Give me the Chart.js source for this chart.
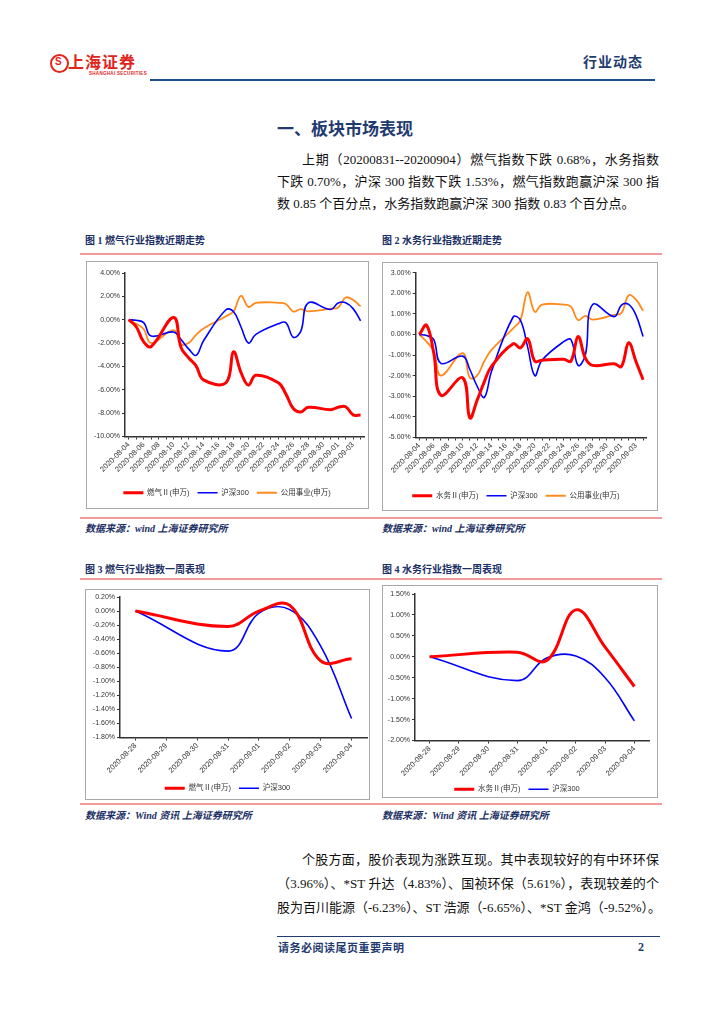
<!DOCTYPE html>
<html><head><meta charset="utf-8">
<script src="https://cdn.jsdelivr.net/npm/chart.js@4.4.1/dist/chart.umd.min.js"></script>
<style>
html,body{margin:0;padding:0;background:#fff;}
body{width:724px;height:1024px;position:relative;overflow:hidden;font-family:"Liberation Serif","Noto Sans CJK SC",serif;color:#111;}
.frame{position:absolute;border:1px solid #a8a8a8;box-sizing:border-box;background:#fff;}
canvas{position:absolute;}
.figt{position:absolute;font-size:10px;font-weight:bold;color:#1b2f64;white-space:nowrap;line-height:12px;}
.src{position:absolute;font-size:10px;font-weight:bold;font-style:italic;color:#1b2f64;white-space:nowrap;line-height:12px;}
.rline{position:absolute;left:80px;width:582px;height:2px;background:#f59a9a;}
.ln{position:absolute;left:277px;width:382px;font-size:13px;line-height:16px;white-space:nowrap;}
.j{text-align:justify;text-align-last:justify;}
</style></head>
<body>
<!-- header -->
<div style="position:absolute;left:50px;top:54px;width:15px;height:15px;border:2px solid #e1251b;border-radius:50%;"></div>
<div style="position:absolute;left:55px;top:56px;font:bold 10px 'Liberation Sans';color:#e1251b;">S</div>
<div style="position:absolute;left:68px;top:51px;font:bold 16px 'Noto Sans CJK SC';color:#e1251b;letter-spacing:1px;line-height:20px;">上海证券</div>
<div style="position:absolute;left:89px;top:71px;font:bold 4.5px 'Liberation Sans';color:#e1251b;line-height:5px;letter-spacing:0.3px;">SHANGHAI SECURITIES</div>
<div style="position:absolute;left:583px;top:52px;font:bold 14px 'Noto Sans CJK SC';color:#1f3b70;letter-spacing:1px;line-height:18px;">行业动态</div>
<div style="position:absolute;left:150px;top:79px;width:505px;height:2px;background:#1f4e8c;"></div>

<div style="position:absolute;left:277px;top:118px;font:bold 17px 'Noto Sans CJK SC';color:#1f3b70;line-height:20px;">一、板块市场表现</div>
<div class="ln j" style="top:152px;padding-left:25px;width:357px;">上期（20200831--20200904）燃气指数下跌 0.68%，水务指数</div>
<div class="ln j" style="top:174px;">下跌 0.70%，沪深 300 指数下跌 1.53%，燃气指数跑赢沪深 300 指</div>
<div class="ln" style="top:196px;">数 0.85 个百分点，水务指数跑赢沪深 300 指数 0.83 个百分点。</div>

<div class="figt" style="left:85px;top:235px;">图 1 燃气行业指数近期走势</div>
<div class="figt" style="left:382px;top:235px;">图 2 水务行业指数近期走势</div>
<div class="rline" style="top:253px;"></div>

<div class="frame" style="left:86px;top:261px;width:283px;height:248px;"></div>
<div class="frame" style="left:382px;top:262px;width:276px;height:249px;"></div>
<canvas id="c1" width="281" height="246" style="left:87px;top:262px;width:281px;height:246px;"></canvas>
<canvas id="c2" width="274" height="247" style="left:383px;top:263px;width:274px;height:247px;"></canvas>

<div class="rline" style="top:517px;"></div>
<div class="src" style="left:85px;top:523px;">数据来源：wind 上海证券研究所</div>
<div class="src" style="left:382px;top:523px;">数据来源：wind 上海证券研究所</div>

<div class="figt" style="left:85px;top:564px;">图 3 燃气行业指数一周表现</div>
<div class="figt" style="left:382px;top:564px;">图 4 水务行业指数一周表现</div>
<div class="rline" style="top:578px;"></div>

<div class="frame" style="left:85px;top:589px;width:285px;height:211px;"></div>
<div class="frame" style="left:382px;top:585px;width:276px;height:213px;"></div>
<canvas id="c3" width="283" height="212" style="left:86px;top:590px;width:283px;height:212px;"></canvas>
<canvas id="c4" width="274" height="217" style="left:383px;top:586px;width:274px;height:217px;"></canvas>

<div class="rline" style="top:803px;"></div>
<div class="src" style="left:85px;top:810px;">数据来源：Wind 资讯 上海证券研究所</div>
<div class="src" style="left:382px;top:810px;">数据来源：Wind 资讯 上海证券研究所</div>

<div class="ln j" style="top:852px;padding-left:25px;width:357px;">个股方面，股价表现为涨跌互现。其中表现较好的有中环环保</div>
<div class="ln j" style="top:876px;">（3.96%）、*ST 升达（4.83%）、国祯环保（5.61%），表现较差的个</div>
<div class="ln j" style="top:900px;">股为百川能源（-6.23%）、ST 浩源（-6.65%）、*ST 金鸿（-9.52%）。</div>

<div style="position:absolute;left:277px;top:936px;width:383px;height:1px;background:#1f3b70;"></div>
<div style="position:absolute;left:278px;top:940px;font:bold 11px 'Noto Sans CJK SC';color:#1f3b70;line-height:14px;letter-spacing:0.5px;">请务必阅读尾页重要声明</div>
<div style="position:absolute;left:638px;top:940px;font:bold 12px 'Liberation Serif';color:#1f3b70;line-height:14px;">2</div>

<script>
// ---- data ----
const monthDates = ['2020-08-04','2020-08-05','2020-08-06','2020-08-07','2020-08-08','2020-08-09','2020-08-10','2020-08-11','2020-08-12','2020-08-13','2020-08-14','2020-08-15','2020-08-16','2020-08-17','2020-08-18','2020-08-19','2020-08-20','2020-08-21','2020-08-22','2020-08-23','2020-08-24','2020-08-25','2020-08-26','2020-08-27','2020-08-28','2020-08-29','2020-08-30','2020-08-31','2020-09-01','2020-09-02','2020-09-03','2020-09-04'];
const gasMonth = [0,-0.6,-1.9,-2.3,null,null,0.2,-2.4,-3.25,-3.95,-5.15,null,null,-5.4,-2.75,-4.5,-5.6,-4.75,null,null,-5.4,-6.35,-7.6,-7.9,-7.5,null,null,-7.7,-7.5,-7.45,-8.15,-8.15];
const waterMonth = [0,0.45,-0.9,-2.95,null,null,-2.1,-4.05,-3.2,-2.3,-1.55,null,null,-0.45,-0.65,-0.2,-1.3,-1.25,null,null,-1.2,-1.3,-0.1,-1.15,-1.5,null,null,-1.42,-1.55,-0.4,-1.3,-2.2];
const hs300Month = [0,-0.05,-0.25,-1.4,null,null,-1.05,-1.7,-2.5,-3.05,-1.8,null,null,0.85,0.7,-0.6,-2.0,-1.25,null,null,-0.35,-0.25,-1.5,-1.0,1.45,null,null,0.87,1.43,1.46,0.95,-0.1];
const utilMonth = [0,-0.35,-0.8,-2.0,null,null,-0.9,-2.1,-2.0,-1.3,-0.75,null,null,0.3,0.7,2.05,1.1,1.45,null,null,1.45,1.35,0.7,0.9,0.72,null,null,0.95,1.05,1.9,1.7,1.15];

const weekDates = ['2020-08-28','2020-08-29','2020-08-30','2020-08-31','2020-09-01','2020-09-02','2020-09-03','2020-09-04'];
const gasWeek = [0,null,null,-0.22,0.0,0.08,-0.71,-0.68];
const waterWeek = [0,null,null,0.11,-0.09,1.12,0.23,-0.71];
const hs300Week = [0,null,null,-0.57,-0.03,0.02,-0.5,-1.53];

const names = {gas:'燃气Ⅱ(申万)', water:'水务Ⅱ(申万)', hs:'沪深300', util:'公用事业(申万)'};
const axis1 = {min:-10, max:4, step:2};
const axis2 = {min:-5, max:3, step:1};
const axis3 = {min:-1.8, max:0.2, step:0.2};
const axis4 = {min:-2, max:1.5, step:0.5};

// ---- styles ----
const RED = '#ff0000', BLUE = '#0000ff', ORANGE = '#ff8a1c';
const FONT = "'Liberation Sans','Noto Sans CJK SC',sans-serif";

function ds(label, data, color, w){
  return {label, data, borderColor:color, backgroundColor:color, borderWidth:w,
    pointRadius:0, pointHoverRadius:0, pointStyle:'line', tension:0.4, spanGaps:true, fill:false, clip:false};
}

function build(id, labels, datasets, ax, L){
  new Chart(document.getElementById(id), {
    type:'line',
    data:{labels, datasets},
    options:{
      responsive:false, animation:false, devicePixelRatio:1,
      layout:{padding:L.pad},
      plugins:{
        tooltip:{enabled:false},
        legend:{position:'bottom', labels:{font:{family:FONT,size:7.5}, color:'#333', usePointStyle:true, pointStyleWidth:20, boxWidth:20, boxHeight:7, padding:8}}
      },
      scales:{
        x:{
          offset:true,
          grid:{display:true, drawOnChartArea:false, drawTicks:true, tickLength:3, color:'#333'},
          border:{color:'#333', width:1.5},
          ticks:{autoSkip:false, minRotation:45, maxRotation:45, padding:1, color:'#333', font:{family:FONT,size:7.5},
            callback:function(v,i){ return (i % L.every === 0) ? labels[i] : ''; }},
          afterFit:function(s){ s.height = L.xh; }
        },
        y:{
          min:ax.min, max:ax.max,
          grid:{display:true, drawOnChartArea:false, drawTicks:true, tickLength:3, color:'#333'},
          border:{color:'#333', width:1.5},
          ticks:{stepSize:ax.step, padding:2, color:'#333', font:{family:FONT,size:7},
            callback:function(v){ const r = Math.round(v*100)/100; return (Math.abs(r)<1e-9?0:r).toFixed(2)+'%'; }},
          afterFit:function(s){ s.width = L.yw; }
        }
      }
    }
  });
}

build('c1', monthDates, [ds(names.gas,gasMonth,RED,3), ds(names.hs,hs300Month,BLUE,1.6), ds(names.util,utilMonth,ORANGE,1.8)], axis1,
  {pad:{left:2,top:11,right:3,bottom:1.5}, yw:36, xh:44.5, every:2});
build('c2', monthDates, [ds(names.water,waterMonth,RED,3), ds(names.hs,hs300Month,BLUE,1.6), ds(names.util,utilMonth,ORANGE,1.8)], axis2,
  {pad:{left:2,top:9.7,right:10.3,bottom:0.5}, yw:30.7, xh:46.5, every:2});
build('c3', weekDates, [ds(names.gas,gasWeek,RED,3), ds(names.hs,hs300Week,BLUE,1.6)], axis3,
  {pad:{left:2,top:7,right:2,bottom:0}, yw:32, xh:39, every:1});
build('c4', weekDates, [ds(names.water,waterWeek,RED,3), ds(names.hs,hs300Week,BLUE,1.6)], axis4,
  {pad:{left:2,top:8,right:8,bottom:0}, yw:30, xh:37, every:1});
</script>
</body></html>
